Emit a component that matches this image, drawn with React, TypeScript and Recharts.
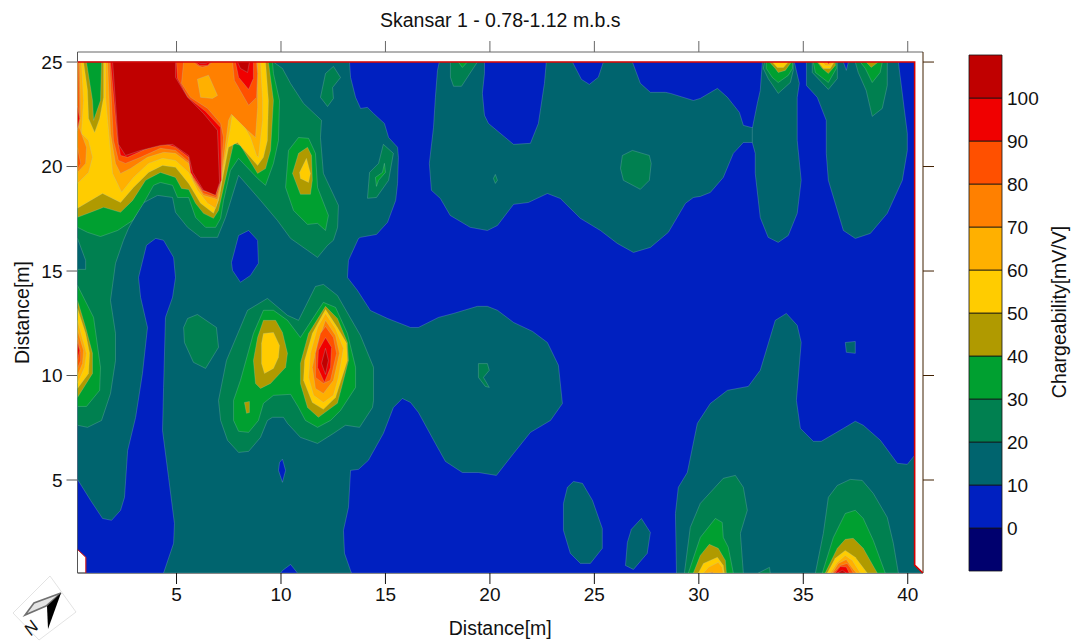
import React from "react";
import {
  ScatterChart, Scatter, XAxis, YAxis, BarChart, Bar,
} from "recharts";

type P = [number, number];

const TITLE = "Skansar 1 - 0.78-1.12 m.b.s";
const X_LABEL = "Distance[m]";
const Y_LABEL = "Distance[m]";
const BAR_LABEL = "Chargeability[mV/V]";
const X_TICKS = [5, 10, 15, 20, 25, 30, 35, 40];
const Y_TICKS = [5, 10, 15, 20, 25];
const BAR_TICKS = [0, 10, 20, 30, 40, 50, 60, 70, 80, 90, 100];

// Level colours: key is the lower bound of the class
const LEVEL_COLOR: Record<number, string> = {
  [-10]: "#00006e", 0: "#0020c0", 10: "#00646e", 20: "#008050", 30: "#00a030", 40: "#b09a00",
  50: "#ffcc00", 60: "#ffb000", 70: "#ff8000", 80: "#ff5000", 90: "#f00000", 100: "#c00000",
};
const BAR_LEVELS = [-10, 0, 10, 20, 30, 40, 50, 60, 70, 80, 90, 100];

const BOUNDARY: P[] = [[0.26,25],[40.33,25],[40.33,0.93],[40.73,0.55],[0.66,0.55],[0.66,1.3],[0.26,1.68]];
const EDGE_TOP_RIGHT: P[] = [[0.26,25],[40.33,25],[40.33,0.93],[40.73,0.55]];
const EDGE_CORNER: P[] = [[0.26,1.68],[0.66,1.3],[0.66,0.55]];

const TEAL_A: P[] = [[0.26,25],[13.28,25],[13.33,24.27],[13.57,23.31],[13.81,22.78],[14.14,22.83],[14.43,22.54],[14.95,22.06],[15.15,21.39],[15.58,20.92],[15.62,20.44],[15.58,19.19],[15.49,18.38],[15.1,17.33],[14.57,16.75],[13.8,16.61],[13.71,16.56],[13.23,15.51],[13.18,14.69],[13.66,14.07],[14.28,13.11],[15.1,12.73],[16.2,12.3],[16.58,12.3],[17.54,12.78],[18.26,12.97],[19.4,13.31],[19.88,13.31],[20.36,13.12],[21.13,12.54],[22.04,12.11],[22.75,11.58],[23.28,10.49],[23.47,8.66],[22.9,7.85],[21.94,7.28],[21.13,6.27],[20.31,5.22],[19.45,5.36],[18.68,5.36],[17.87,5.89],[17.39,6.75],[16.58,8.23],[16.2,8.71],[15.81,8.9],[15.38,8.47],[14.9,7.23],[14.18,5.94],[13.71,5.51],[13.33,5.46],[13.23,3.69],[12.99,2.59],[13.04,1.49],[13.37,0.55],[10.79,0.55],[10.46,0.96],[10.07,0.67],[9.98,0.55],[4.38,0.55],[4.86,1.97],[4.9,2.92],[4.62,5.12],[4.33,7.37],[4.38,9.43],[4.47,12.78],[4.81,13.74],[4.95,14.69],[4.86,15.65],[4.38,16.47],[4,16.56],[3.56,16.23],[3.18,14.69],[3.28,13.74],[3.61,12.3],[3.37,10.1],[3.04,7.99],[2.66,6.41],[2.51,4.17],[2.32,3.55],[1.89,3.07],[1.46,3.16],[0.89,4.02],[0.26,5.03]];
const TEAL_B: P[] = [[17.58,25],[17.49,24.6],[17.39,23.31],[17.3,21.87],[17.1,20.15],[17.2,18.86],[17.63,18.47],[18.1,17.66],[19.06,17.09],[19.88,16.94],[20.36,17.18],[21.13,18.19],[21.84,18.28],[22.75,18.71],[23.37,18.47],[24.33,17.52],[25.29,16.94],[26.1,16.32],[26.87,15.89],[27.68,16.13],[28.54,16.85],[29.36,18.24],[29.74,18.52],[30.07,18.57],[30.55,18.76],[31.17,19.48],[31.65,20.63],[32.13,21.15],[32.7,21.15],[32.7,21.82],[32.13,21.97],[31.94,22.59],[31.37,23.31],[30.89,23.74],[30.07,23.26],[29.74,23.16],[28.64,23.5],[28.4,23.55],[27.68,23.55],[27.2,23.98],[26.82,25],[25.43,25],[25.19,24.27],[24.76,23.93],[24.38,24.17],[23.95,25],[22.7,25],[22.61,23.98],[22.32,22.06],[21.94,21.11],[21.13,21.06],[19.93,22.06],[19.74,22.45],[19.64,23.5],[19.74,24.45],[19.74,25]];
const TEAL_C: P[] = [[33.04,25],[32.94,23.64],[32.8,23.02],[32.56,21.82],[32.56,21.15],[32.7,20.63],[32.7,19.67],[32.94,17.56],[33.32,16.61],[33.8,16.37],[34.28,16.7],[34.71,17.76],[34.9,19.34],[34.71,21.25],[34.71,23.31],[34.81,23.98],[34.57,25]];
const TEAL_D: P[] = [[35.15,25],[35.15,23.88],[35.67,23.31],[36.1,22.21],[36.1,20.63],[36.2,19.34],[36.92,16.94],[37.49,16.56],[38.21,16.8],[39.02,17.76],[39.74,19.34],[39.98,20.77],[39.98,21.58],[39.55,25]];
const TEAL_E: P[] = [[28.93,0.55],[28.88,3.4],[29.02,4.65],[29.45,5.36],[29.93,7.71],[30.55,8.66],[31.37,9.29],[32.37,9.48],[32.94,10.25],[33.66,12.64],[34.19,12.97],[34.71,12.4],[34.9,11.58],[34.67,8.81],[34.86,7.47],[35.48,6.85],[35.86,6.85],[36.92,7.47],[37.49,7.81],[37.87,7.62],[38.69,6.9],[39.5,5.8],[39.98,5.75],[40.33,6.18],[40.33,0.93],[40.73,0.55]];
const TEAL_SQUARE: P[] = [[37.01,11.58],[37.49,11.63],[37.49,11.06],[37.06,11.11]];
const TEAL_BLOB1: P[] = [[23.71,4.65],[24,4.93],[24.43,4.84],[24.91,4.02],[25.38,2.68],[25.38,1.73],[24.81,1.01],[24.33,1.01],[23.85,1.49],[23.52,2.59],[23.52,3.88]];
const TEAL_BLOB2: P[] = [[27.25,3.16],[27.68,2.49],[27.53,1.49],[26.87,0.72],[26.49,0.91],[26.58,2.01],[26.77,2.64]];

const HOLE1: P[] = [[8.45,16.94],[8.88,16.47],[8.92,15.37],[8.54,14.79],[8.06,14.46],[7.68,15.03],[7.63,15.41],[7.97,16.7]];
const HOLE2: P[] = [[10.07,6],[10.22,5.46],[10.07,4.89],[9.88,5.46],[9.93,5.84]];
const HOLE3: P[] = [[36.92,25],[37.06,24.6],[37.16,25]];

const G_MAIN: P[] = [[0.26,25],[9.64,25],[10.07,24.69],[10.46,23.97],[11.08,23.02],[11.94,22.21],[11.89,21.39],[12.03,19.67],[12.75,18.14],[12.71,17.09],[12.51,16.47],[12.23,16.23],[11.75,15.65],[11.27,15.99],[10.46,16.56],[9.83,17.42],[9.02,18.38],[7.97,19.58],[7.35,17.57],[6.96,16.61],[6.15,16.61],[5.53,17.09],[4.95,17.81],[4.81,18.52],[4.09,18.62],[3.37,18.24],[2.7,17.04],[2.46,16.47],[2.08,15.37],[1.84,13.59],[2.08,12.01],[2.08,10.72],[1.84,9.14],[1.41,7.85],[0.74,7.52],[0.26,7.62]];
const G_TEALHOLE: P[] = [[0.26,16.56],[0.65,15.51],[0.65,15.08],[0.26,15.08]];
const G_TOP: P[] = [[12.51,24.79],[12.85,24.26],[12.47,23.78],[12.51,23.26],[12.23,22.87],[11.89,23.31],[12.13,24.45]];
const G2: P[] = [[5.53,12.73],[6,12.92],[6.91,12.3],[7.01,11.35],[6.39,10.34],[5.81,10.63],[5.38,11.58],[5.34,12.3]];
const G3: P[] = [[7.01,8.81],[7.39,10.72],[8.4,13.12],[9.35,13.69],[10.31,12.88],[10.84,12.64],[11.65,14.26],[12.03,14.36],[12.7,13.83],[13.8,11.92],[14.43,10.39],[14.43,8.81],[14.38,8.47],[13.76,7.52],[13.09,7.62],[12.51,7.23],[11.75,6.75],[10.93,7.04],[10.31,7.71],[10.12,8],[9.59,8],[9.35,7.85],[9.02,7.04],[8.45,6.37],[7.97,6.32],[7.44,6.9],[7.11,7.85]];
const G4: P[] = [[14.14,18.48],[14.24,19.72],[14.67,20.15],[14.9,21.06],[15.38,20.63],[15.15,19.34],[14.57,18.52]];
const G4B: P[] = [[14.52,19.48],[14.86,19.72],[14.95,20.15],[15,19.72],[14.67,19.34],[14.57,19.05]];
const G5: P[] = [[18.11,25],[18.11,24.27],[18.26,23.84],[18.64,23.84],[19.4,25]];
const G5B: P[] = [[18.49,25],[18.68,24.74],[18.92,25]];
const G6: P[] = [[20.17,19.43],[20.26,19.62],[20.36,19.34],[20.26,19.19]];
const G7: P[] = [[26.34,20.53],[26.82,20.77],[27.63,20.53],[27.72,20.15],[27.63,19.34],[27.2,18.91],[26.39,19.34],[26.25,19.91]];
const G8: P[] = [[19.45,10.57],[19.88,10.57],[19.97,10.25],[19.69,9.91],[19.97,9.43],[19.78,9.48],[19.45,9.91]];

const L1_20: P[] = [[33.14,25],[33.09,24.69],[33.32,24.21],[33.8,23.5],[34.38,24.02],[34.52,24.6],[34.52,25]];
const L1_30: P[] = [[33.23,25],[33.23,24.69],[33.52,24.26],[33.8,24.02],[34.28,24.36],[34.48,24.69],[34.48,25]];
const L1_40: P[] = [[33.38,25],[33.66,24.69],[33.8,24.5],[34.14,24.6],[34.43,25]];
const L1_50: P[] = [[33.52,25],[33.76,24.74],[34.05,24.74],[34.28,25]];
const L2_20: P[] = [[35.43,25],[35.43,24.5],[36.2,23.69],[36.63,24.21],[36.63,25]];
const L2_30: P[] = [[35.48,25],[35.58,24.5],[36.2,24.02],[36.58,24.69],[36.58,25]];
const L2_40: P[] = [[35.67,25],[35.91,24.69],[36.2,24.45],[36.53,24.84],[36.53,25]];
const L2_50: P[] = [[35.72,25],[35.96,24.69],[36.29,24.69],[36.48,25]];
const L2_60: P[] = [[35.91,25],[36.05,24.84],[36.29,24.84],[36.43,25]];
const L2_90: P[] = [[36.15,25],[36.2,24.9],[36.29,25]];
const L3_20: P[] = [[37.49,25],[37.63,24.5],[38.01,23.64],[38.3,22.4],[38.78,22.78],[39.02,23.88],[39.02,25]];
const L3_30: P[] = [[37.73,25],[37.97,24.69],[38.3,24.02],[38.68,24.5],[38.78,25]];
const L3_40: P[] = [[38.01,25],[38.25,24.74],[38.59,25]];

const BL_20: P[] = [[29.31,0.55],[29.59,2.73],[30.07,3.88],[31.17,5.08],[31.75,5.22],[32.13,4.65],[32.32,3.55],[31.99,2.45],[32.13,0.55]];
const BL_30: P[] = [[29.5,0.55],[30.07,2.25],[30.79,3.16],[31.12,2.97],[31.17,2.25],[31.41,1.78],[31.65,0.55]];
const BL_40: P[] = [[29.74,0.55],[30.07,1.39],[30.5,1.92],[30.93,1.73],[31.27,1.15],[31.32,0.55]];
const BL_50: P[] = [[29.98,0.55],[30.22,1.01],[30.89,1.3],[31.17,0.91],[31.22,0.55]];
const BL_60: P[] = [[30.22,0.55],[30.46,0.82],[30.93,1.06],[31.12,0.82],[31.17,0.55]];
const BL_70: P[] = [[30.46,0.55],[30.65,0.6],[30.7,0.55]];
const SMALL_B: P[] = [[32.85,0.55],[33.38,0.82],[33.42,0.55]];
const BR_20: P[] = [[35.58,0.55],[35.96,2.45],[36.2,4.17],[36.63,4.74],[37.25,5.03],[37.82,4.98],[38.35,4.36],[39.02,3.21],[39.31,1.97],[39.55,0.55]];
const BR_30: P[] = [[35.91,0.55],[36.44,2.25],[37.01,3.4],[37.49,3.55],[37.87,3.16],[38.35,2.11],[38.92,0.55]];
const BR_40: P[] = [[36.05,0.55],[36.63,1.73],[37.01,2.16],[37.39,2.21],[37.87,1.73],[38.54,0.55]];
const BR_50: P[] = [[36.15,0.55],[36.53,1.25],[37.01,1.63],[37.49,1.3],[38.06,0.55]];
const BR_60: P[] = [[36.29,0.55],[36.63,1.06],[37.01,1.39],[37.35,1.15],[37.73,0.55]];
const BR_70: P[] = [[36.39,0.55],[36.68,1.01],[37.06,1.2],[37.25,0.91],[37.54,0.55]];
const BR_80: P[] = [[36.44,0.55],[36.77,0.91],[37.1,1.01],[37.25,0.8],[37.39,0.55]];
const BR_90: P[] = [[36.53,0.55],[36.77,0.86],[37.06,0.84],[37.2,0.55]];
const BR_100: P[] = [[36.63,0.55],[36.87,0.68],[37.06,0.55]];

const H30: P[] = [[0.26,17.09],[0.74,16.85],[1.36,16.65],[2.18,16.94],[2.9,17.42],[3.42,18.24],[3.9,19.1],[4.23,19.24],[4.81,19.1],[5.05,18.52],[5.58,18.52],[5.91,17.57],[6.39,17.09],[6.87,17.09],[7.11,17.52],[7.25,18.38],[7.58,19.81],[7.97,20.39],[8.88,19.43],[9.26,19.1],[9.64,20.15],[9.88,21.25],[9.93,23.16],[9.64,24.45],[9.59,25],[0.26,25]];
const H40: P[] = [[0.26,17.57],[1.12,17.9],[1.51,18.05],[2.32,17.81],[2.9,18.38],[3.52,19.34],[4.23,19.72],[4.95,19.48],[5.24,18.95],[5.58,18.9],[5.91,18.24],[6.29,17.76],[6.77,17.52],[7.01,17.9],[7.25,19],[7.58,20.44],[7.73,21.11],[8.06,21.01],[8.88,19.67],[9.26,19.9],[9.5,20.77],[9.64,23.16],[9.4,25],[0.26,25]];
const H50: P[] = [[0.26,18],[0.89,18.38],[1.46,18.71],[2.32,18.28],[2.94,19],[3.66,19.72],[4.33,20.05],[4.95,19.96],[5.58,19.19],[6.15,18.24],[6.77,17.76],[7.01,18.38],[7.25,19.67],[7.49,20.92],[7.92,21.15],[8.88,20.05],[9.16,20.44],[9.35,21.25],[9.4,23.16],[9.26,25],[0.26,25]];
const H60: P[] = [[1.6,25],[1.6,23.31],[1.79,21.25],[1.94,19.67],[2.37,18.77],[2.94,19.48],[3.66,20.15],[4.33,20.39],[4.95,20.29],[5.58,19.72],[6,18.86],[6.49,18.24],[6.87,18],[7.06,18.62],[7.25,19.96],[7.58,21.87],[7.68,22.54],[8.16,22.06],[8.54,21.39],[8.83,20.53],[8.92,20.44],[9.12,22.21],[9.12,23.16],[9.02,25]];
const H70: P[] = [[1.7,25],[1.84,21.58],[2.08,20.15],[2.32,19.67],[2.8,19.91],[3.61,20.44],[4.38,20.68],[4.95,20.63],[5.58,20.15],[5.81,19.34],[6.29,18.62],[6.96,18.43],[7.11,19.19],[7.49,22.21],[7.63,22.5],[8.4,21.73],[8.78,21.39],[8.88,22.83],[8.88,25]];
const H_ISLAND: P[] = [[6,24.18],[6.53,24.37],[6.96,23.4],[6.72,23.26],[6.15,23.31]];
const H80: P[] = [[1.79,25],[1.98,21.25],[2.22,20.29],[2.56,20.15],[3.28,20.44],[4.23,20.87],[4.95,20.77],[5.58,20.24],[5.77,19.48],[6.29,18.71],[6.91,18.52],[7.11,19.19],[7.25,21.39],[7.11,22.06],[6.49,22.78],[5.67,23.31],[5.24,23.98],[5.34,25]];
const H90: P[] = [[1.84,25],[2.18,21.25],[2.32,20.53],[2.66,20.44],[3.61,20.87],[4.38,21.11],[4.95,20.92],[5.58,20.44],[5.67,19.72],[6.24,18.86],[6.87,18.71],[7.15,19.34],[7.11,21.87],[6.39,22.64],[5.53,23.31],[5.05,24.22],[5,25]];
const H100: P[] = [[1.94,25],[2.22,21.06],[2.56,20.53],[3.28,20.77],[4.23,21.01],[4.81,21.06],[5.58,20.53],[5.77,19.72],[6.29,18.86],[6.87,18.62],[7.06,19.24],[6.96,21.73],[6.29,22.54],[5.53,23.31],[4.95,24.27],[4.95,25]];
const T1_80: P[] = [[5.81,25],[6,24.84],[6.24,24.74],[6.53,24.84],[6.72,25]];
const T1_90: P[] = [[5.91,25],[6.1,24.84],[6.49,24.84],[6.63,25]];
const T1_100: P[] = [[6,25],[6.15,24.93],[6.39,24.93],[6.53,25]];
const T2_80: P[] = [[7.68,25],[7.77,24.12],[8.45,22.93],[8.83,23.31],[8.88,24.45],[8.83,25]];
const T2_90: P[] = [[7.82,25],[7.97,24.27],[8.45,23.69],[8.68,24.22],[8.68,25]];
const T2_100: P[] = [[7.92,25],[8.06,24.69],[8.4,24.5],[8.49,25]];
const E60: P[] = [[0.26,25],[0.45,25],[0.55,23.16],[0.45,21.58],[0.79,21.25],[0.98,20.44],[0.79,19.72],[0.26,19.19]];
const E70: P[] = [[0.26,25],[0.36,25],[0.41,22.4],[0.33,21.9],[0.69,20.92],[0.65,20.15],[0.26,19.72]];
const E80A: P[] = [[0.26,25],[0.31,25],[0.36,22.4],[0.26,21.7]];
const E80B: P[] = [[0.26,20.9],[0.41,20.15],[0.26,19.85]];
const E90: P[] = [[0.26,22.9],[0.36,22.3],[0.26,21.8]];
const STRIP40: P[] = [[0.55,25],[0.74,23.64],[0.79,22.3],[1.08,21.63],[1.32,22.3],[1.51,23.31],[1.51,25]];
const STRIP30: P[] = [[0.69,25],[0.98,23.16],[1.03,22.21],[1.36,23.16],[1.41,25]];

const M30: P[] = [[0.26,14.31],[1.03,12.78],[1.36,10.39],[1.32,9.29],[0.69,8.52],[0.26,8.52]];
const M40: P[] = [[0.26,13.59],[0.65,12.3],[0.98,11.06],[0.98,10.1],[0.26,8.95]];
const M50: P[] = [[0.26,13.21],[0.65,12.01],[0.84,11.06],[0.79,10.1],[0.26,9.38]];
const M60: P[] = [[0.26,12.64],[0.55,11.58],[0.69,11.06],[0.6,10.39],[0.26,9.62]];
const M70: P[] = [[0.26,12.16],[0.55,11.2],[0.5,10.58],[0.26,10]];
const M80: P[] = [[0.26,11.78],[0.41,11.11],[0.41,10.72],[0.26,10.34]];
const M90: P[] = [[0.26,11.58],[0.36,11.2],[0.26,10.72]];

const C30: P[] = [[7.73,8.81],[8.06,9.77],[8.68,12.01],[9.16,13.12],[9.64,13.12],[10.31,12.64],[10.93,11.82],[12.03,13.5],[12.61,13.26],[13.18,12.01],[13.57,10.39],[13.57,9.43],[12.85,8.33],[12.37,7.85],[11.75,7.52],[11.17,7.85],[10.84,8.47],[10.46,9.1],[9.64,9.05],[9.16,8.67],[8.92,7.85],[8.45,7.28],[7.97,7.33],[7.73,7.85]];
const CL40: P[] = [[9.16,12.64],[9.74,12.64],[10.07,12.06],[10.31,11.06],[10.22,10.39],[9.5,9.62],[9.02,9.38],[8.78,9.62],[8.68,10.72],[8.88,11.82]];
const CL50: P[] = [[9.16,12.01],[9.64,12.06],[9.93,11.44],[9.88,10.87],[9.64,10.34],[9.21,10.1],[9.07,10.58],[9.07,11.54]];
const CS40: P[] = [[8.25,8.71],[8.49,8.76],[8.49,8.23],[8.35,8.19]];
const CR40: P[] = [[12.13,13.31],[12.7,12.73],[13.18,11.58],[13.23,10.72],[12.99,9.77],[12.7,8.67],[11.79,8],[11.27,8.47],[10.93,9.62],[10.93,10.58],[11.32,12.01]];
const CR50: P[] = [[12.13,13.16],[12.7,12.3],[13.14,11.54],[13.18,10.72],[12.61,8.95],[12.03,8.38],[11.5,8.71],[11.08,9.77],[11.13,10.72],[11.5,12.01]];
const CR60: P[] = [[12.13,12.97],[12.61,12.25],[12.99,11.3],[12.75,9.91],[12.51,9.05],[12.03,8.71],[11.56,9.05],[11.32,9.91],[11.41,11.06],[11.75,12.3]];
const CR70: P[] = [[12.13,12.64],[12.61,11.92],[12.8,11.06],[12.51,9.77],[12.03,9.14],[11.65,9.38],[11.5,10.39],[11.75,11.54]];
const CR80: P[] = [[12.13,12.35],[12.51,11.82],[12.66,11.06],[12.37,9.77],[12.03,9.62],[11.65,9.91],[11.65,11.06],[11.89,12.01]];
const CR90: P[] = [[12.13,11.82],[12.42,11.35],[12.37,10.39],[12.08,9.67],[11.75,10.39],[11.79,11.2]];
const CR100: P[] = [[12.13,11.3],[12.27,10.72],[12.13,10.05],[11.94,10.58]];

const B30: P[] = [[10.84,21.39],[11.32,21.35],[11.65,20.63],[11.75,19],[12.27,17.66],[12.13,16.94],[11.75,17.28],[11.27,17.23],[10.6,17.9],[10.22,19],[10.36,20.77]];
const B40: P[] = [[11.27,20.92],[11.46,20.53],[11.5,19.34],[11.41,18.67],[10.93,18.67],[10.55,19.67],[10.84,20.63]];
const B50: P[] = [[11.22,20.39],[11.41,19.67],[11.32,19.24],[10.93,19.43],[10.89,19.72]];

// Painter's order: [class lower bound, outline]
const LAYERS: [number, P[]][] = [
  [0, BOUNDARY],
  [10, TEAL_A], [10, TEAL_B], [10, TEAL_C], [10, TEAL_D], [10, TEAL_E], [10, TEAL_SQUARE], [10, TEAL_BLOB1], [10, TEAL_BLOB2],
  [0, HOLE1], [0, HOLE2], [0, HOLE3],
  [20, G_MAIN], [10, G_TEALHOLE], [20, G_TOP], [20, G2], [20, G3], [20, G4], [30, G4B], [20, G5], [30, G5B], [20, G6], [20, G7], [20, G8],
  [20, L1_20], [30, L1_30], [40, L1_40], [50, L1_50],
  [20, L2_20], [30, L2_30], [40, L2_40], [50, L2_50], [60, L2_60], [90, L2_90],
  [20, L3_20], [30, L3_30], [40, L3_40],
  [20, BL_20], [30, BL_30], [40, BL_40], [50, BL_50], [60, BL_60], [70, BL_70], [20, SMALL_B],
  [20, BR_20], [30, BR_30], [40, BR_40], [50, BR_50], [60, BR_60], [70, BR_70], [80, BR_80], [90, BR_90], [100, BR_100],
  [30, H30], [40, H40], [50, H50], [60, H60], [70, H70], [60, H_ISLAND], [80, H80], [90, H90], [100, H100],
  [80, T1_80], [90, T1_90], [100, T1_100], [80, T2_80], [90, T2_90], [100, T2_100],
  [60, E60], [70, E70], [80, E80A], [80, E80B], [90, E90], [40, STRIP40], [30, STRIP30],
  [30, M30], [40, M40], [50, M50], [60, M60], [70, M70], [80, M80], [90, M90],
  [30, C30], [40, CL40], [50, CL50], [40, CS40],
  [40, CR40], [50, CR50], [60, CR60], [70, CR70], [80, CR80], [90, CR90], [100, CR100],
  [30, B30], [40, B40], [50, B50],
];

const FONT = "'Liberation Sans', Arial, sans-serif";
const TICK = { fontFamily: FONT, fontSize: 19, fill: "#111" };
const LABEL = { fontFamily: FONT, fontSize: 19.5, fill: "#111" };
const noLabel = () => "";
const closed = (pts: P[]) => [...pts, pts[0]].map(([x, y]) => ({ x, y }));
const open = (pts: P[]) => pts.map(([x, y]) => ({ x, y }));
const noPoint = () => <g />;
const barRow = [Object.fromEntries(BAR_LEVELS.map((l) => [`b${l}`, l < 0 ? -10 : 10]))];

function NorthArrow() {
  return (
    <svg width={80} height={70} style={{ position: "absolute", left: 0, top: 574 }}>
      <polygon points="50,2 76,38 39,66 13,39" fill="#fff" stroke="#d0d0d0" strokeWidth={0.6} />
      <polygon points="61,19 34,29 25,41 46,32" fill="#e4e4e4" stroke="#707070" strokeWidth={1.6} />
      <polygon points="61,19 47,32 48,55" fill="#000" />
      <text x={31} y={60} fontFamily={FONT} fontSize={17} fontStyle="italic" fill="#111" textAnchor="middle"
        transform="rotate(-48 31 54)">N</text>
    </svg>
  );
}

export default function App() {
  return (
    <div style={{ position: "absolute", left: 0, top: 0, width: 1075, height: 644, background: "#fff", fontFamily: FONT }}>
      <div style={{ position: "absolute", left: 0, top: 0 }}>
        <ScatterChart width={1075} height={644} margin={{ top: 40, right: 140, bottom: 31, left: 27.5 }}>
          <XAxis dataKey="x" type="number" domain={[0.26, 40.73]} ticks={X_TICKS} allowDataOverflow
            height={40} tick={TICK} tickSize={11} tickMargin={4} stroke="#111" interval={0}
            label={{ value: X_LABEL, position: "insideBottom", offset: -22, style: LABEL }} />
          <XAxis xAxisId="top" orientation="top" dataKey="x" type="number" domain={[0.26, 40.73]} ticks={X_TICKS} allowDataOverflow
            height={12} tick={TICK} tickSize={11} tickFormatter={noLabel} stroke="#666" interval={0}
            label={{ value: TITLE, position: "top", offset: 13, style: LABEL }} />
          <YAxis dataKey="y" type="number" domain={[0.55, 25.48]} ticks={Y_TICKS} allowDataOverflow
            width={50} tick={TICK} tickSize={11} tickMargin={4} stroke="#555" interval={0}
            label={{ value: Y_LABEL, angle: -90, position: "insideLeft", offset: -5, style: { ...LABEL, textAnchor: "middle" } }} />
          <YAxis yAxisId="right" orientation="right" dataKey="y" type="number" domain={[0.55, 25.48]} ticks={Y_TICKS} allowDataOverflow
            width={12} tick={TICK} tickSize={11} tickFormatter={noLabel} stroke="#402000" interval={0} />
          {LAYERS.map(([level, pts], i) => (
            <Scatter key={i} data={closed(pts)} isAnimationActive={false} shape={noPoint} legendType="none"
              line={{ fill: LEVEL_COLOR[level], stroke: "rgba(165,205,205,0.42)", strokeWidth: 0.6 }} />
          ))}
          <Scatter data={open(EDGE_TOP_RIGHT)} isAnimationActive={false} shape={noPoint} legendType="none"
            line={{ fill: "none", stroke: "#d80000", strokeWidth: 1.6 }} />
          <Scatter data={open(EDGE_CORNER)} isAnimationActive={false} shape={noPoint} legendType="none"
            line={{ fill: "none", stroke: "#d80000", strokeWidth: 1 }} />
        </ScatterChart>
      </div>
      <div style={{ position: "absolute", left: 0, top: 0 }}>
        <BarChart width={1075} height={644} data={barRow} barCategoryGap={0} stackOffset="sign"
          margin={{ top: 55, right: 33, bottom: 73, left: 969 }}>
          <XAxis hide type="category" />
          <YAxis yAxisId="r" orientation="right" type="number" domain={[-10, 110]} ticks={BAR_TICKS}
            width={40} axisLine={false} tickLine={false} tickSize={0} tick={{ ...TICK, textAnchor: "start" }} tickMargin={5} interval={0} />
          {BAR_LEVELS.map((l) => (
            <Bar key={l} yAxisId="r" dataKey={`b${l}`} stackId="s" fill={LEVEL_COLOR[l]} stroke="rgba(20,20,20,0.8)" strokeWidth={1} isAnimationActive={false} />
          ))}
        </BarChart>
      </div>
      <svg width={30} height={220} style={{ position: "absolute", left: 1045, top: 202 }}>
        <text x={14} y={110} transform="rotate(-90 14 110)" dominantBaseline="central" textAnchor="middle"
          fontFamily={FONT} fontSize={19.5} fill="#111">{BAR_LABEL}</text>
      </svg>
      <NorthArrow />
    </div>
  );
}
